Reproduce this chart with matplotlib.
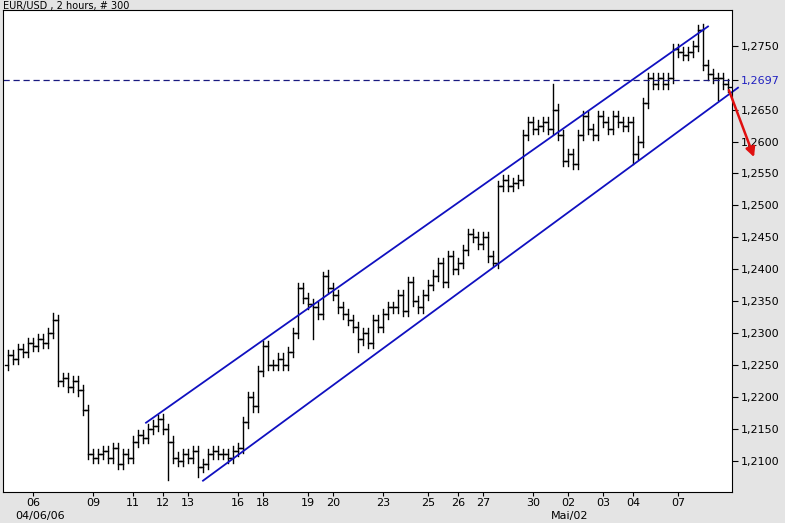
import matplotlib
matplotlib.use("Agg")
import matplotlib.pyplot as plt
import numpy as np

closes = [1.2265,1.2260,1.2275,1.2270,1.2285,1.2280,1.2290,1.2285,1.2300,1.2320,
1.2225,1.2230,1.2215,1.2225,1.2210,1.2180,1.2110,1.2105,1.2110,1.2115,
1.2105,1.2120,1.2095,1.2110,1.2105,1.2130,1.2140,1.2135,1.2150,1.2155,
1.2165,1.2150,1.2130,1.2105,1.2100,1.2110,1.2105,1.2115,1.2090,1.2095,
1.2110,1.2115,1.2110,1.2110,1.2105,1.2115,1.2120,1.2160,1.2200,1.2185,
1.2240,1.2280,1.2250,1.2250,1.2260,1.2250,1.2270,1.2300,1.2370,1.2355,
1.2345,1.2340,1.2330,1.2390,1.2370,1.2360,1.2340,1.2330,1.2320,1.2310,
1.2290,1.2300,1.2285,1.2320,1.2310,1.2330,1.2340,1.2340,1.2360,1.2335,
1.2380,1.2350,1.2340,1.2360,1.2375,1.2390,1.2410,1.2380,1.2420,1.2400,
1.2410,1.2430,1.2455,1.2450,1.2440,1.2450,1.2420,1.2410,1.2530,1.2540,
1.2530,1.2535,1.2540,1.2610,1.2630,1.2620,1.2625,1.2630,1.2620,1.2650,
1.2610,1.2570,1.2580,1.2565,1.2610,1.2640,1.2620,1.2610,1.2640,1.2630,
1.2620,1.2640,1.2630,1.2625,1.2630,1.2580,1.2600,1.2660,1.2700,1.2690,
1.2700,1.2690,1.2700,1.2745,1.2740,1.2735,1.2740,1.2750,1.2775,1.2720,
1.2705,1.2700,1.2700,1.2690,1.2685]
first_open = 1.2250
wick = 0.0008
spike_highs = {9: 1.2332, 30: 1.2172, 63: 1.2395, 109: 1.2690, 139: 1.2784}
spike_lows = {32: 1.2070, 38: 1.2075, 61: 1.2290, 70: 1.2270, 97: 1.2405, 125: 1.2565, 142: 1.2665}

tick_pos = [5, 17, 25, 31, 36, 46, 51, 60, 65, 75, 84, 90, 95, 105, 112, 119, 125, 134]
tick_lab = ["06","09","11","12","13","16","18","19","20","23","25","26","27","30","02","03","04","07"]
y_ticks = [1.2100,1.2150,1.2200,1.2250,1.2300,1.2350,1.2400,1.2450,1.2500,1.2550,1.2600,1.2650,1.2750]
ref_level = 1.2697
upper_ch = ([27.6, 140.0], [1.21595, 1.27802])
lower_ch = ([39.0, 146.0], [1.20687, 1.26843])
arrow_xy = ([144.0, 149.4], [1.26843, 1.25715])

fig = plt.figure(figsize=(7.85, 5.23), dpi=100, facecolor="#e4e4e4")
ax = fig.add_axes([3/785, 1-492/523, 729/785, 482/523])
ax.set_facecolor("white")

opens = [first_open] + closes[:-1]
for i, (o, c) in enumerate(zip(opens, closes)):
    h = spike_highs.get(i, max(o, c) + wick)
    l = spike_lows.get(i, min(o, c) - wick)
    ax.plot([i, i], [l, h], color="black", lw=1)
    ax.plot([i-0.6, i], [o, o], color="black", lw=1)
    ax.plot([i, i+0.6], [c, c], color="black", lw=1)

ax.plot(*upper_ch, color="#1010c0", lw=1.3)
ax.plot(*lower_ch, color="#1010c0", lw=1.3, clip_on=False)
ax.axhline(ref_level, color="#1a1a80", lw=0.9, ls=(0, (5, 3)))
ax.annotate("", xy=(arrow_xy[0][1], arrow_xy[1][1]), xytext=(arrow_xy[0][0], arrow_xy[1][0]),
            arrowprops=dict(arrowstyle="-|>", color="#e01010", lw=1.8, mutation_scale=14),
            annotation_clip=False)

ax.set_xlim(-1, 144.8)
ax.set_ylim(1.2051, 1.2806)
ax.yaxis.tick_right()
ax.set_yticks(y_ticks + [ref_level])
labels = [f"{v:.4f}".replace(".", ",") for v in y_ticks + [ref_level]]
ax.set_yticklabels(labels, fontsize=8)
ax.get_yticklabels()[-1].set_color("#2020c0")
ax.set_xticks(tick_pos)
ax.set_xticklabels(tick_lab, fontsize=8)
ax.tick_params(axis="x", length=3, pad=1)
ax.tick_params(axis="y", length=4, pad=2)
for s in ax.spines.values():
    s.set_color("black")

fig.text(40/785, 1-516/523, "04/06/06", fontsize=8, ha="center", va="center")
fig.text(570/785, 1-516/523, "Mai/02", fontsize=8, ha="center", va="center")
fig.text(3/785, 1-6/523, "EUR/USD , 2 hours, # 300", fontsize=7, ha="left", va="center")

fig.savefig("out.png", dpi=100, facecolor=fig.get_facecolor())
